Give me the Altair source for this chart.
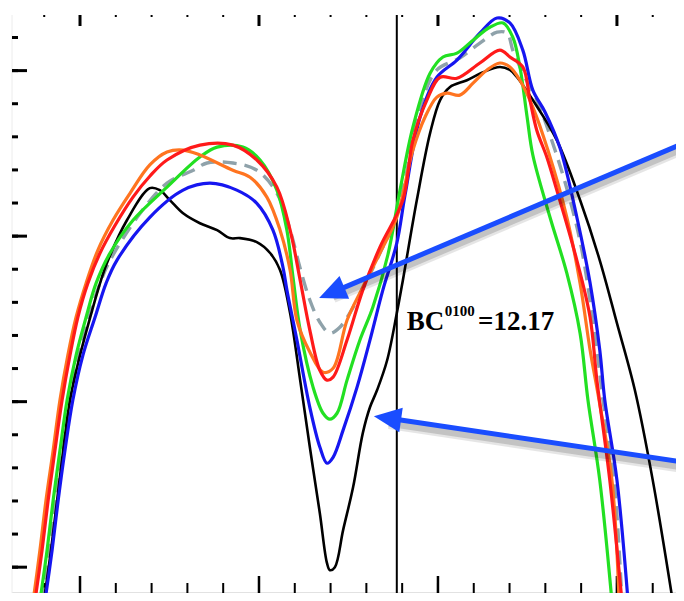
import altair as alt
import pandas as pd

# ---------------- data ----------------
black_x = [3.99, 4.19, 4.36, 4.53, 4.72, 5.00, 5.34, 5.56, 5.75, 6.31, 6.95, 7.23, 7.51, 7.88, 8.35, 8.83, 9.19, 9.47, 9.94, 10.31, 10.59, 10.87, 11.15, 11.42, 11.70, 11.90, 11.98, 12.12, 12.35, 12.63, 12.90, 13.10, 13.30, 13.58, 13.85, 14.02, 14.41, 14.78, 15.06, 15.33, 15.81, 16.26, 16.73, 17.01, 17.21, 17.65, 18.32, 18.97, 19.52, 20.0, 20.50, 21.0, 21.56]
black_y = [-1.03, 0.51, 2.02, 3.53, 5.05, 6.40, 7.76, 8.58, 9.18, 10.48, 11.45, 11.39, 11.09, 10.69, 10.39, 10.18, 9.94, 9.94, 9.82, 9.49, 8.97, 7.67, 5.65, 3.63, 1.63, 0.12, -0.09, 0.0, 1.12, 2.42, 4.05, 4.83, 5.35, 6.25, 7.67, 8.67, 11.09, 13.11, 14.11, 14.50, 14.71, 14.95, 15.11, 15.02, 14.80, 14.11, 12.90, 11.09, 9.27, 7.37, 5.35, 2.63, -1.03]

blue_x = [4.02, 4.22, 4.39, 4.58, 4.80, 5.08, 5.42, 5.73, 6.03, 6.95, 7.88, 8.63, 9.38, 9.94, 10.39, 10.67, 10.78, 11.06, 11.42, 11.70, 11.90, 12.07, 12.35, 12.74, 13.10, 13.46, 13.85, 14.08, 14.50, 14.97, 15.53, 16.17, 16.65, 17.01, 17.37, 17.65, 17.99, 18.41, 18.88, 19.25, 19.52, 19.66, 20.0, 20.31]
blue_y = [-1.03, 0.51, 2.02, 3.53, 5.05, 6.40, 7.55, 8.58, 9.27, 10.57, 11.39, 11.60, 11.39, 10.99, 10.18, 9.06, 8.37, 6.86, 4.83, 3.63, 3.14, 3.32, 4.14, 5.44, 6.86, 8.37, 9.79, 11.24, 13.60, 14.80, 15.32, 16.13, 16.59, 16.44, 15.62, 14.41, 13.75, 12.66, 10.57, 8.58, 6.56, 5.05, 2.63, -1.03]

green_x = [3.88, 4.08, 4.25, 4.44, 4.64, 4.89, 5.17, 5.45, 5.84, 6.48, 7.43, 8.35, 8.83, 9.55, 10.03, 10.50, 10.78, 10.95, 11.15, 11.51, 11.79, 11.98, 12.18, 12.46, 12.82, 13.18, 13.60, 13.94, 14.30, 14.78, 15.14, 15.53, 15.98, 16.45, 16.82, 17.09, 17.29, 17.49, 17.65, 18.13, 18.60, 18.97, 19.19, 19.52, 19.86]
green_y = [-1.03, 0.51, 2.02, 3.53, 5.05, 6.40, 7.55, 8.58, 9.49, 10.48, 11.48, 12.39, 12.69, 12.69, 12.30, 11.39, 10.18, 8.76, 7.16, 5.44, 4.65, 4.47, 4.65, 5.65, 6.86, 7.85, 9.43, 11.39, 13.29, 14.92, 15.41, 15.53, 15.92, 16.31, 16.44, 16.01, 15.11, 13.60, 12.45, 10.57, 8.88, 7.07, 5.05, 2.63, -1.03]

gray_x = [3.94, 4.13, 4.30, 4.50, 4.72, 4.97, 5.28, 5.56, 5.84, 6.68, 7.43, 8.16, 8.55, 9.27, 9.94, 10.50, 10.87, 11.15, 11.42, 11.70, 11.98, 12.26, 12.63, 13.02, 13.38, 13.80, 14.08, 14.50, 14.97, 15.61, 16.17, 16.65, 16.93, 17.09, 17.37, 17.76, 18.27, 18.69, 19.02, 19.44, 19.61, 19.92, 20.14]
gray_y = [-1.03, 0.51, 2.02, 3.53, 5.05, 6.40, 7.67, 8.58, 9.27, 10.69, 11.60, 11.99, 12.21, 12.21, 11.99, 11.30, 10.18, 9.03, 8.07, 7.40, 7.07, 7.25, 7.85, 8.67, 9.49, 10.48, 11.69, 13.90, 15.02, 15.38, 15.83, 16.16, 16.13, 15.62, 14.92, 14.11, 12.60, 11.09, 9.58, 6.56, 5.05, 2.63, -1.03]

orange_x = [3.69, 3.88, 4.05, 4.25, 4.44, 4.66, 4.89, 5.17, 5.50, 5.92, 6.40, 6.95, 7.43, 7.88, 8.35, 9.27, 9.75, 10.22, 10.59, 10.87, 11.06, 11.42, 11.79, 12.07, 12.46, 12.90, 13.38, 13.85, 14.30, 14.64, 14.97, 15.25, 15.61, 15.98, 16.37, 16.73, 17.01, 17.29, 17.65, 18.07, 18.60, 18.97, 19.25, 19.50, 19.86, 20.06]
orange_y = [-1.03, 0.51, 2.02, 3.53, 5.05, 6.40, 7.55, 8.58, 9.58, 10.48, 11.30, 12.15, 12.54, 12.60, 12.45, 11.99, 11.78, 11.18, 10.18, 8.97, 7.46, 6.50, 5.89, 6.01, 7.46, 8.46, 9.49, 10.57, 12.60, 13.60, 14.20, 14.32, 14.26, 14.62, 15.02, 15.23, 15.11, 14.71, 13.90, 12.60, 10.57, 8.58, 6.56, 5.05, 2.63, -1.03]

red_x = [3.74, 3.94, 4.11, 4.30, 4.50, 4.72, 4.94, 5.22, 5.56, 5.98, 6.48, 6.95, 7.43, 8.35, 9.27, 9.94, 10.50, 10.87, 11.15, 11.42, 11.70, 11.90, 12.07, 12.46, 12.90, 13.38, 14.02, 14.30, 14.69, 15.06, 15.53, 16.17, 16.73, 17.01, 17.37, 17.57, 17.76, 18.04, 18.32, 18.88, 19.25, 19.44, 19.80, 20.14]
red_y = [-1.03, 0.51, 2.02, 3.53, 5.05, 6.40, 7.55, 8.58, 9.49, 10.33, 11.18, 11.81, 12.30, 12.75, 12.75, 12.30, 11.48, 10.18, 8.67, 7.16, 5.95, 5.65, 5.74, 6.86, 8.37, 9.67, 11.09, 12.90, 14.11, 14.80, 14.77, 15.23, 15.62, 15.41, 15.11, 14.11, 13.20, 12.39, 11.39, 9.27, 7.55, 5.65, 2.63, -1.03]

# tick values
y_minor = list(range(0, 17))
y_major = [0, 5, 10, 15]
x_minor = list(range(4, 22))
x_major = [5, 10, 15, 20]
vline_x = [13.85]

# annotation text and arrows
label_main = "BC"
label_sup = "0100"
label_val = "=12.17"
arrow1_x = [21.87, 12.07]
arrow1_y = [12.81, 8.31]
arrow2_x = [21.87, 13.63]
arrow2_y = [3.17, 4.50]
head_x = [11.68, 13.21]
head_y = [8.13, 4.56]
head_angle = [247, 278]

# ---------------- chart ----------------
W, H = 664, 578
xs = alt.Scale(domain=[3.10, 21.65], nice=False, zero=False)
ys = alt.Scale(domain=[-0.78, 16.68], nice=False, zero=False)


def xy(df, xf="x", yf="y"):
    return dict(x=alt.X(f"{xf}:Q", scale=xs, axis=None), y=alt.Y(f"{yf}:Q", scale=ys, axis=None))


def curve(xv, yv, color, width=3.2, dash=None):
    df = pd.DataFrame({"x": xv, "y": yv, "o": range(len(xv))})
    kw = dict(color=color, strokeWidth=width, interpolate="catmull-rom", clip=True)
    if dash:
        kw["strokeDash"] = dash
    return alt.Chart(df).mark_line(**kw).encode(order="o:Q", **xy(df))


layers = []

# frame lines
frame = pd.DataFrame({"x": [0]})
layers.append(alt.Chart(frame).mark_rule(color="#d8d8d8", strokeWidth=1.5).encode(
    x=alt.value(0), x2=alt.value(W), y=alt.value(H)))
layers.append(alt.Chart(frame).mark_rule(color="#ececec", strokeWidth=1).encode(
    x=alt.value(0), y=alt.value(0), y2=alt.value(H)))

# ticks
ymin_df = pd.DataFrame({"y": y_minor})
ymaj_df = pd.DataFrame({"y": y_major})
xmin_df = pd.DataFrame({"x": x_minor})
xmaj_df = pd.DataFrame({"x": x_major})
layers.append(alt.Chart(ymin_df).mark_rule(color="black", strokeWidth=3).encode(
    y=alt.Y("y:Q", scale=ys, axis=None), x=alt.value(0), x2=alt.value(6)))
layers.append(alt.Chart(ymaj_df).mark_rule(color="black", strokeWidth=3).encode(
    y=alt.Y("y:Q", scale=ys, axis=None), x=alt.value(0), x2=alt.value(15)))
layers.append(alt.Chart(xmin_df).mark_rule(color="black", strokeWidth=2).encode(
    x=alt.X("x:Q", scale=xs, axis=None), y=alt.value(H), y2=alt.value(H - 10)))
layers.append(alt.Chart(xmaj_df).mark_rule(color="black", strokeWidth=2.5).encode(
    x=alt.X("x:Q", scale=xs, axis=None), y=alt.value(H), y2=alt.value(H - 17)))
layers.append(alt.Chart(xmin_df).mark_rule(color="black", strokeWidth=2).encode(
    x=alt.X("x:Q", scale=xs, axis=None), y=alt.value(0), y2=alt.value(2)))
layers.append(alt.Chart(xmaj_df).mark_rule(color="black", strokeWidth=3).encode(
    x=alt.X("x:Q", scale=xs, axis=None), y=alt.value(0), y2=alt.value(11)))

# vertical line
layers.append(alt.Chart(pd.DataFrame({"x": vline_x})).mark_rule(color="black", strokeWidth=2).encode(
    x=alt.X("x:Q", scale=xs, axis=None), y=alt.value(0), y2=alt.value(H)))

# curves
layers.append(curve(gray_x, gray_y, "#8fa2aa", 3.4, [14, 8]))
layers.append(curve(black_x, black_y, "#000000", 2.6))
layers.append(curve(blue_x, blue_y, "#1616f0", 3.2))
layers.append(curve(green_x, green_y, "#22e022", 3.2))
layers.append(curve(orange_x, orange_y, "#ff7420", 3.2))
layers.append(curve(red_x, red_y, "#ff1a1a", 3.2))

# text
layers.append(alt.Chart(pd.DataFrame({"x": [14.13], "y": [7.16], "t": [label_main]})).mark_text(
    align="left", baseline="alphabetic", font="Liberation Serif", fontWeight="bold", fontSize=27, color="black"
).encode(text="t:N", **xy(None)))
layers.append(alt.Chart(pd.DataFrame({"x": [15.19], "y": [7.58], "t": [label_sup]})).mark_text(
    align="left", baseline="alphabetic", font="Liberation Serif", fontWeight="bold", fontSize=15, color="black"
).encode(text="t:N", **xy(None)))
layers.append(alt.Chart(pd.DataFrame({"x": [16.12], "y": [7.16], "t": [label_val]})).mark_text(
    align="left", baseline="alphabetic", font="Liberation Serif", fontWeight="bold", fontSize=27, color="black"
).encode(text="t:N", **xy(None)))

# arrows with soft shadow
for ax, ay in [(arrow1_x, arrow1_y), (arrow2_x, arrow2_y)]:
    sh = pd.DataFrame({"x": ax, "y": [v - 0.15 for v in ay]})
    layers.append(alt.Chart(sh).mark_line(color="#000000", opacity=0.10, strokeWidth=12, clip=True).encode(**xy(sh)))
    layers.append(alt.Chart(sh).mark_line(color="#000000", opacity=0.15, strokeWidth=7, clip=True).encode(**xy(sh)))
    df = pd.DataFrame({"x": ax, "y": ay})
    layers.append(alt.Chart(df).mark_line(color="#1a4dff", strokeWidth=5, clip=True).encode(**xy(df)))

heads = pd.DataFrame({"x": head_x, "y": head_y, "a": head_angle})
layers.append(alt.Chart(heads).mark_point(
    shape="M0,0 L0.45,1 L-0.45,1 Z", filled=True, color="#1a4dff", opacity=1, size=3000
).encode(angle=alt.Angle("a:Q", scale=None), **xy(heads)))

chart = alt.layer(*layers).properties(
    width=W, height=H, padding={"left": 4, "top": 7, "right": 0, "bottom": 0},
    autosize=alt.AutoSizeParams(type="none")
).configure_view(stroke=None)

chart.save("out.html", embed_options={"renderer": "svg", "actions": False})
